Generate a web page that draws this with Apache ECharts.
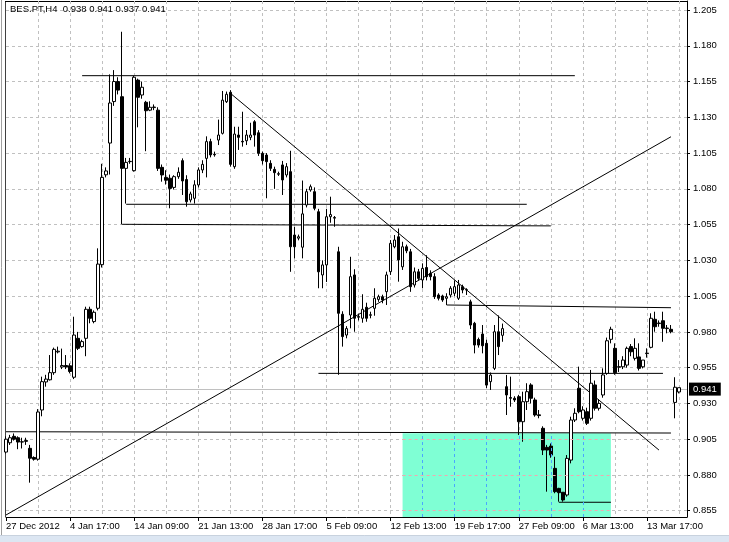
<!DOCTYPE html>
<html>
<head>
<meta charset="utf-8">
<script src="https://cdn.jsdelivr.net/npm/echarts@6/dist/echarts.min.js"></script>
<style>
html,body{margin:0;padding:0;background:#fff;}
#chart{width:729px;height:542px;}
</style>
</head>
<body>
<div id="chart"></div>
<script>
// ---- data (H4 bars, index 0 = 27 Dec 2012 09:00) ----
const opens = [
.896,.9025,.907,.906,.903,.904,.8986,.8922,.891,.9254,
.945,.9465,.9515,.966,.9555,.9565,.9563,.9483,.9755,.9697,
.9755,.9958,.9872,.9965,1.027,1.0898,1.112,1.141,1.155,1.1444,
1.0943,1.099,1.0927,1.156,1.1456,1.1405,1.135,1.1368,1.135,1.095,
1.088,1.0874,1.081,1.0885,1.0997,1.0865,1.0722,1.0734,1.0827,1.0932,
1.1013,1.113,1.1042,1.1141,1.1188,1.1409,1.1475,1.0955,1.1176,1.1132,
1.1136,1.116,1.1269,1.1192,1.1048,1.1036,1.0978,1.0936,1.0902,1.0967,
1.0897,1.092,1.0477,1.0455,1.0392,1.0687,1.0792,1.078,1.064,1.0198,
1.0268,1.0605,1.0595,1.036,.9923,.9778,.9918,1.0198,.9902,.9895,
.9972,.9916,.9965,1.0027,1.0046,1.0081,1.0221,1.0395,1.0465,1.0255,
1.0395,1.036,1.0128,1.022,1.0163,1.025,1.0209,1.0186,1.0058,1.0051,
1.0035,1.0058,1.007,1.0035,1.0116,1.0093,1.001,.986,.9747,.9785,
.972,.9452,.9545,.9801,.9776,.9417,.9341,.9336,.9347,.9172,
.9312,.9429,.9324,.922,.9126,.8993,.9002,.8846,.8706,.8679,
.866,.8904,.9184,.9406,.9196,.9242,.9196,.9429,.9266,.9359,
.951,.9748,.9685,.9553,.9556,.9568,.9697,.9615,.9625,.9556,
.9648,.9692,.9888,.9858,.9878,.9823,.9818,.9307,.938
];
const highs = [
.907,.908,.909,.907,.906,.906,.901,.893,.926,.9487,
.950,.9638,.969,.9697,.9683,.9638,.958,.9906,.980,.9745,
.9976,.9976,.995,1.0384,1.0975,1.095,1.160,1.163,1.158,1.1898,
1.1016,1.1016,1.159,1.157,1.155,1.1415,1.1412,1.139,1.137,1.097,
1.093,1.090,1.0895,1.095,1.1013,1.0895,1.078,1.086,1.095,1.100,
1.1167,1.115,1.106,1.1284,1.1484,1.148,1.149,1.1234,1.1234,1.1339,
1.1211,1.1262,1.128,1.121,1.106,1.105,1.100,1.0955,1.092,1.0995,
1.098,1.1066,1.0535,1.048,1.0858,1.080,1.083,1.081,1.066,1.030,
1.066,1.0745,1.061,1.0395,.9944,.984,1.0325,1.0238,.9927,1.0063,
1.0004,.9941,1.0105,1.006,1.006,1.0221,1.0442,1.0477,1.0523,1.043,
1.041,1.038,1.025,1.024,1.0279,1.0336,1.023,1.021,1.007,1.006,
1.007,1.012,1.016,1.0163,1.013,1.0105,1.0025,.987,.976,.9848,
.9745,.9516,.9848,.9915,.9858,.9499,.9487,.935,.936,.9382,
.9441,.9441,.934,.9254,.914,.901,.902,.8927,.871,.868,
.8939,.9207,.9266,.9557,.928,.927,.9534,.946,.933,.9545,
.976,.9836,.972,.9603,.963,.9697,.9715,.9755,.972,.9603,
.9685,.993,.9941,.988,.9941,.9848,.9848,.9483,.941
];
const lows = [
.895,.901,.904,.898,.8985,.901,.8746,.890,.890,.921,
.9417,.946,.950,.965,.954,.954,.951,.947,.9673,.969,
.963,.986,.986,.995,1.025,1.088,1.090,1.138,1.146,1.0552,
1.0697,1.0975,1.092,1.123,1.143,1.1063,1.1343,1.135,1.0925,1.085,
1.083,1.0664,1.0795,1.087,1.0757,1.0675,1.0705,1.0697,1.081,1.091,
1.088,1.102,1.1025,1.1106,1.118,1.140,1.0955,1.094,1.1072,1.1095,
1.1106,1.114,1.1095,1.103,1.097,1.0734,1.0925,1.080,1.089,1.0757,
1.088,1.022,1.0313,1.044,1.0314,1.067,1.078,1.065,1.0105,1.0105,
1.0149,1.0563,1.0535,.950,.9697,.9755,.9825,.9801,.988,.9864,
.9871,.9895,.9913,1.001,1.000,.9988,1.0198,1.0384,1.0151,1.0233,
1.035,1.008,1.011,1.016,1.0105,1.016,1.016,1.003,1.002,1.001,
.9988,1.004,1.005,1.0023,1.007,1.0058,.982,.965,.969,.965,
.9406,.9394,.9533,.9638,.9731,.9219,.9277,.931,.9079,.9032,
.9254,.930,.9207,.9196,.8939,.8683,.892,.8672,.8613,.8613,
.8648,.8881,.917,.9231,.918,.9149,.918,.925,.925,.934,
.950,.972,.950,.952,.954,.955,.963,.960,.953,.9545,
.962,.9685,.9801,.9836,.9731,.979,.979,.9196,.937
];
const closes = [
.905,.906,.905,.903,.9032,.9035,.8917,.891,.924,.9452,
.947,.9515,.9678,.9665,.9565,.9555,.9523,.9778,.9685,.9732,
.9958,.9895,.9937,1.0274,1.088,1.0925,1.140,1.155,1.149,1.0943,
1.0985,1.0992,1.158,1.144,1.151,1.1346,1.137,1.1372,1.0943,1.0897,
1.086,1.0803,1.0885,1.0916,1.0855,1.071,1.0764,1.0828,1.0932,1.0971,
1.113,1.1037,1.1038,1.1176,1.142,1.1461,1.0971,1.1183,1.116,1.1128,
1.1176,1.1176,1.1176,1.1048,1.0997,1.099,1.0943,1.0913,1.0906,1.0862,
1.0955,1.0395,1.0395,1.0465,1.0625,1.078,1.0815,1.0664,1.022,1.0268,
1.0605,1.062,1.0600,.993,.9767,.9823,1.0186,.9895,.9908,.9958,
.9895,.9920,1.0035,1.0046,1.0023,1.0198,1.0419,1.0442,1.0303,1.0395,
1.0367,1.0116,1.022,1.0174,1.0244,1.0186,1.0186,1.0046,1.0035,1.0023,
1.0046,1.0105,1.0116,1.0128,1.0093,1.0095,.9848,.9708,.9708,.9703,
.9428,.9498,.9801,.9697,.9823,.9359,.9336,.9324,.9172,.9312,
.9382,.9336,.9219,.9215,.8974,.8974,.8939,.8683,.8676,.8625,
.8916,.9184,.9231,.9242,.9254,.9161,.9441,.9266,.930,.9499,
.9738,.9818,.9515,.9557,.9603,.9685,.9661,.9685,.9545,.9603,
.9652,.9895,.9836,.9862,.9825,.9827,.9801,.9413,.941
];
const barSlots = 171;                 // bar positions on the time axis
const tickIndex = [0,16,32,48,64,80,96,112,128,144,160];
const tickLabels = ['27 Dec 2012','4 Jan 17:00','14 Jan 09:00','21 Jan 13:00','28 Jan 17:00',
  '5 Feb 09:00','12 Feb 13:00','19 Feb 17:00','27 Feb 09:00','6 Mar 13:00','13 Mar 17:00'];
const priceTicks = [0.855,0.880,0.905,0.930,0.955,0.980,1.005,1.030,1.055,1.080,1.105,1.130,1.155,1.180,1.205];
// drawn objects: [startBar, startPrice, endBar, endPrice]
const levelLines = [
  [19,1.1591,142,1.1591],
  [30,1.0692,130,1.0692],
  [29,1.0552,136,1.0541],
  [110,0.9988,166,0.9969],
  [78,0.9510,164,0.9510],
  [0,0.9102,166,0.9093],
  [138,0.8609,151,0.8609]
];
const trendLines = [
  [56,1.1468,163,0.8974],
  [0,0.8520,166,1.1164]
];
const zone = {fromBar: 99, toBar: 151, top: 0.9091};
const lastPrice = 0.941;
const yMin = 0.8506, yMax = 1.2113;

const cats = [];
for (let i = 0; i < barSlots; i++) cats.push(String(i));
const ohlc = opens.map((o, i) => [o, closes[i], lows[i], highs[i]]);

const FONT = '"Liberation Sans", Arial, sans-serif';
const series = [];

// zone rectangle + overdrawn grid inside it
const zoneGrid = [];
[104,112,120,128,136,144].forEach(b => zoneGrid.push([{xAxis: b, yAxis: yMin, lineStyle:{color:'#4aa6ff'}}, {xAxis: b, yAxis: zone.top}]));
[0.855,0.880,0.905].forEach(p => zoneGrid.push([{xAxis: zone.fromBar, yAxis: p, lineStyle:{color:'#f0a8b0'}}, {xAxis: zone.toBar, yAxis: p}]));
series.push({
  type: 'line', data: [], z: 1, silent: true,
  markArea: { silent: true, itemStyle: {color: '#7fffd4'},
    data: [[{xAxis: zone.fromBar, yAxis: yMin}, {xAxis: zone.toBar, yAxis: zone.top}]] },
  markLine: { silent: true, symbol: 'none', label: {show: false},
    lineStyle: {type: [3,3], width: 1}, data: zoneGrid }
});

levelLines.concat(trendLines).forEach(l => {
  series.push({
    type: 'line', z: 3, silent: true, showSymbol: false, symbol: 'none',
    lineStyle: {color: '#000', width: 1},
    data: [[l[0], l[1]], [l[2], l[3]]]
  });
});

series.push({
  type: 'candlestick', z: 4, clip: false, barWidth: 3,
  data: ohlc,
  itemStyle: { color: '#fff', color0: '#000', borderColor: '#000', borderColor0: '#000', borderColorDoji: '#000', borderWidth: 1 },
  markLine: {
    silent: true, symbol: 'none', z: 0,
    lineStyle: {color: '#c0c0c0', type: 'solid', width: 1},
    label: { show: true, position: 'end', formatter: lastPrice.toFixed(3), color: '#fff',
      backgroundColor: '#000', padding: [2, 4, 1, 4], fontSize: 9.5, fontFamily: FONT, distance: 2 },
    data: [{yAxis: lastPrice}]
  }
});

const chart = echarts.init(document.getElementById('chart'));
chart.setOption({
  animation: false,
  backgroundColor: '#fff',
  textStyle: {fontFamily: FONT},
  title: { text: 'BES.PT,H4  0.938 0.941 0.937 0.941', left: 10, top: 4, padding: 0,
    textStyle: {fontSize: 9.5, fontWeight: 'normal', color: '#000', fontFamily: FONT} },
  grid: { left: 6, top: 1, width: 681, height: 516, show: false },
  xAxis: {
    type: 'category', data: cats, boundaryGap: false,
    axisLine: {show: true, lineStyle: {color: '#000', width: 1}},
    axisTick: {show: true, interval: (i) => tickIndex.indexOf(i) >= 0, length: 4, lineStyle: {color: '#000'}},
    axisLabel: {show: true, interval: (i) => tickIndex.indexOf(i) >= 0,
      formatter: (v, i) => { const k = tickIndex.indexOf(Number(v)); return k >= 0 ? tickLabels[k] : ''; },
      align: 'left', color: '#000', fontSize: 9.5, margin: 4, fontFamily: FONT},
    splitLine: {show: true, interval: (i) => i % 8 === 0 && i > 0, lineStyle: {color: '#c0c0c0', type: [3,3], width: 1}}
  },
  yAxis: {
    type: 'value', position: 'right', min: yMin, max: yMax,
    axisLine: {show: true, lineStyle: {color: '#000', width: 1}},
    axisTick: {show: true, length: 3, customValues: priceTicks, lineStyle: {color: '#000'}},
    axisLabel: {show: true, customValues: priceTicks, formatter: (v) => v.toFixed(3), color: '#000', fontSize: 9.5, margin: 6, fontFamily: FONT},
    splitLine: {show: true, lineStyle: {color: '#c0c0c0', type: [3,3], width: 1}}
  },
  graphic: [
    {type: 'rect', shape: {x: 0, y: 535, width: 729, height: 7}, style: {fill: '#dce6f2'}, silent: true},
    {type: 'line', shape: {x1: 0, y1: 535.5, x2: 729, y2: 535.5}, style: {stroke: '#c8d2de', lineWidth: 1}, silent: true},
    {type: 'line', shape: {x1: 1.5, y1: 0, x2: 1.5, y2: 535}, style: {stroke: '#a0a0a0', lineWidth: 1}, silent: true},
    {type: 'line', shape: {x1: 5.5, y1: 1, x2: 5.5, y2: 517}, style: {stroke: '#404040', lineWidth: 1}, silent: true},
    {type: 'line', shape: {x1: 5, y1: 1.5, x2: 687.5, y2: 1.5}, style: {stroke: '#000', lineWidth: 1}, silent: true}
  ],
  series: series
});
</script>
</body>
</html>
